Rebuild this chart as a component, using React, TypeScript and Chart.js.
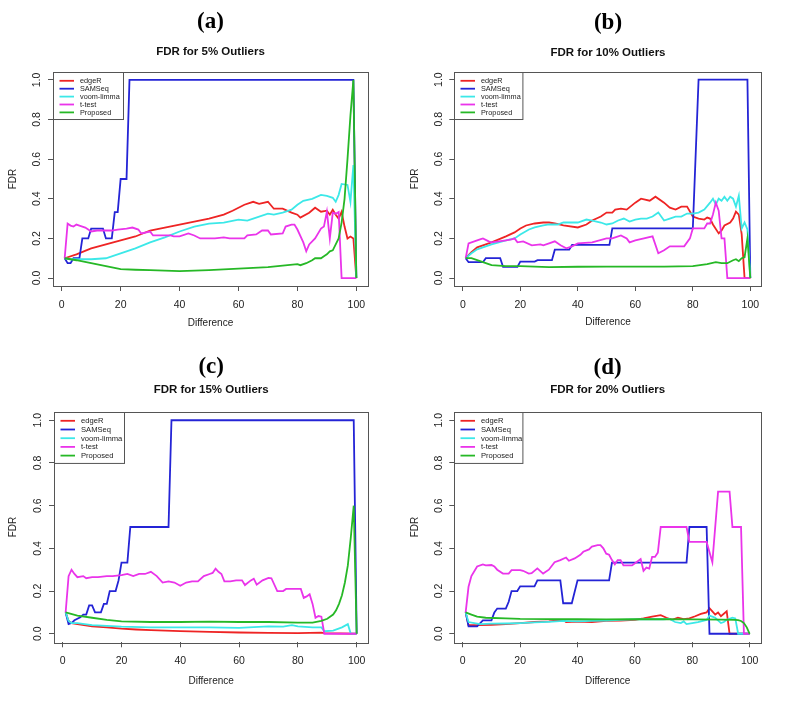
import React, { useEffect, useRef } from "react";
import { Chart, registerables } from "chart.js";
Chart.register(...registerables);

type P = [number, number];

const seriesNames = ["edgeR", "SAMSeq", "voom-limma", "t-test", "Proposed"];
const seriesColors = ["#EE2424", "#2424D6", "#3CE8E8", "#EA34EA", "#26B826"];
const xTicks = [0, 20, 40, 60, 80, 100];
const yTicks = [0, 0.2, 0.4, 0.6, 0.8, 1.0];
const panelLetters = ["(a)", "(b)", "(c)", "(d)"];
const panelTitles = ["FDR for 5% Outliers", "FDR for 10% Outliers", "FDR for 15% Outliers", "FDR for 20% Outliers"];

// ---- Panel (a): 5% outliers
const edgeR_a: P[] = [[1,0.1],[5,0.12],[10,0.15],[15,0.17],[20,0.19],[25,0.21],[30,0.24],[35,0.255],[40,0.27],[45,0.285],[50,0.3],[55,0.32],[58,0.34],[60,0.355],[62,0.37],[65,0.385],[67,0.375],[70,0.385],[72,0.35],[75,0.35],[78,0.33],[80,0.32],[81,0.305],[84,0.33],[86,0.355],[88,0.335],[90,0.34],[91,0.32],[92,0.345],[93,0.32],[94,0.3],[95,0.335],[96,0.26],[97,0.2],[98,0.21],[99,0.2],[100,0]];
const samseq_a: P[] = [[1,0.1],[2,0.075],[3,0.075],[4,0.1],[6,0.1],[7,0.2],[9,0.2],[10,0.25],[14,0.25],[15,0.2],[17,0.2],[18,0.333],[19,0.333],[20,0.5],[22,0.5],[23,1],[99,1],[100,0]];
const voom_a: P[] = [[1,0.1],[3,0.095],[10,0.095],[15,0.1],[20,0.125],[25,0.15],[30,0.18],[35,0.205],[40,0.235],[45,0.26],[50,0.275],[55,0.28],[60,0.295],[63,0.29],[65,0.3],[70,0.325],[72,0.32],[75,0.33],[78,0.345],[80,0.37],[82,0.39],[85,0.4],[88,0.42],[90,0.415],[92,0.405],[93,0.385],[94,0.42],[95,0.475],[97,0.47],[98,0.385],[99,0.57],[100,0]];
const ttest_a: P[] = [[1,0.1],[2,0.275],[3,0.265],[4,0.26],[5,0.27],[6,0.265],[8,0.255],[9,0.245],[10,0.235],[12,0.24],[15,0.24],[17,0.24],[19,0.245],[22,0.25],[24,0.255],[26,0.245],[27,0.225],[30,0.235],[31,0.215],[37,0.215],[38,0.21],[40,0.21],[43,0.225],[45,0.215],[47,0.2],[52,0.2],[55,0.205],[57,0.2],[62,0.2],[63,0.215],[66,0.22],[68,0.24],[70,0.24],[71,0.22],[75,0.225],[76,0.26],[78,0.27],[79,0.27],[80,0.245],[82,0.18],[83,0.135],[84,0.17],[86,0.2],[88,0.25],[89,0.26],[90,0.335],[91,0.2],[92,0.33],[93,0.325],[94,0.333],[95,0],[100,0]];
const prop_a: P[] = [[1,0.1],[5,0.09],[10,0.075],[15,0.06],[20,0.045],[25,0.042],[30,0.04],[40,0.035],[50,0.04],[60,0.048],[70,0.055],[75,0.063],[80,0.07],[81,0.065],[83,0.075],[85,0.09],[86,0.1],[88,0.1],[89,0.11],[90,0.12],[91,0.135],[92,0.14],[93,0.17],[94,0.2],[95,0.28],[96,0.4],[97,0.6],[98,0.82],[99,1.0],[100,0]];

// ---- Panel (b): 10% outliers
const edgeR_b: P[] = [[1,0.1],[3,0.13],[5,0.155],[8,0.17],[10,0.18],[15,0.21],[18,0.23],[20,0.25],[22,0.265],[25,0.275],[28,0.28],[30,0.28],[32,0.275],[35,0.265],[40,0.255],[43,0.27],[45,0.29],[48,0.31],[50,0.33],[52,0.33],[53,0.345],[55,0.35],[57,0.345],[60,0.38],[62,0.4],[65,0.39],[67,0.41],[70,0.38],[72,0.355],[74,0.345],[76,0.36],[78,0.36],[80,0.31],[82,0.3],[84,0.295],[85,0.305],[86,0.3],[87,0.27],[89,0.225],[90,0.24],[91,0.265],[93,0.28],[94,0.3],[95,0.335],[96,0.32],[97,0.22],[98,0],[100,0]];
const samseq_b: P[] = [[1,0.1],[2,0.08],[7,0.08],[8,0.1],[13,0.1],[14,0.056],[19,0.056],[20,0.083],[25,0.083],[26,0.09],[31,0.09],[32,0.143],[37,0.143],[38,0.167],[51,0.167],[52,0.25],[80,0.25],[82,1],[99,1],[100,0]];
const voom_b: P[] = [[1,0.1],[3,0.125],[5,0.145],[8,0.16],[10,0.17],[15,0.19],[18,0.2],[20,0.22],[23,0.245],[25,0.255],[28,0.265],[30,0.27],[33,0.27],[35,0.28],[38,0.28],[40,0.28],[43,0.295],[45,0.29],[48,0.28],[50,0.27],[52,0.275],[54,0.29],[56,0.3],[58,0.285],[60,0.295],[62,0.3],[64,0.3],[66,0.31],[68,0.33],[70,0.29],[72,0.3],[74,0.31],[76,0.31],[78,0.325],[80,0.325],[82,0.33],[84,0.345],[86,0.38],[87,0.4],[88,0.37],[89,0.4],[90,0.39],[91,0.41],[92,0.39],[93,0.41],[94,0.4],[95,0.36],[96,0.415],[97,0.25],[98,0.28],[99,0.245],[100,0]];
const ttest_b: P[] = [[1,0.1],[2,0.175],[4,0.185],[6,0.195],[7,0.2],[9,0.185],[10,0.18],[15,0.19],[17,0.195],[18,0.2],[19,0.18],[21,0.185],[24,0.165],[27,0.17],[28,0.165],[30,0.175],[32,0.185],[34,0.165],[36,0.15],[38,0.16],[40,0.175],[45,0.18],[50,0.2],[52,0.2],[55,0.215],[57,0.2],[58,0.18],[60,0.19],[63,0.2],[66,0.21],[68,0.125],[70,0.14],[72,0.16],[77,0.16],[79,0.2],[80,0.25],[84,0.25],[85,0.275],[86,0.275],[87,0.32],[88,0.38],[89,0.34],[90,0.2],[91,0.2],[92,0],[100,0]];
const prop_b: P[] = [[1,0.1],[3,0.1],[5,0.09],[8,0.075],[10,0.065],[15,0.06],[20,0.06],[30,0.055],[40,0.057],[50,0.058],[60,0.058],[70,0.058],[80,0.06],[85,0.07],[88,0.08],[90,0.075],[92,0.075],[94,0.09],[95,0.095],[96,0.085],[97,0.1],[98,0.105],[99,0.2],[100,0]];

// ---- Panel (c): 15% outliers
const edgeR_c: P[] = [[1,0.1],[2,0.06],[3,0.05],[5,0.045],[10,0.035],[15,0.03],[20,0.024],[25,0.02],[30,0.017],[40,0.0125],[50,0.009],[60,0.006],[70,0.004],[80,0.003],[88,0.005],[89,0.003],[100,0]];
const samseq_c: P[] = [[1,0.1],[2,0.045],[3,0.05],[4,0.063],[6,0.077],[7,0.09],[8,0.09],[9,0.133],[10,0.133],[11,0.1],[13,0.1],[14,0.14],[15,0.14],[16,0.2],[18,0.2],[19,0.25],[20,0.333],[22,0.333],[23,0.5],[36,0.5],[37,1],[99,1],[100,0]];
const voom_c: P[] = [[1,0.1],[2,0.06],[3,0.05],[5,0.05],[10,0.04],[15,0.037],[20,0.033],[30,0.03],[40,0.03],[50,0.03],[60,0.028],[70,0.035],[75,0.033],[78,0.04],[80,0.035],[85,0.03],[88,0.03],[89,0.012],[92,0.015],[95,0.03],[97,0.045],[98,0],[100,0]];
const ttest_c: P[] = [[1,0.1],[2,0.27],[3,0.3],[4,0.28],[5,0.265],[7,0.27],[8,0.26],[10,0.265],[12,0.265],[15,0.27],[17,0.27],[20,0.275],[22,0.28],[24,0.27],[26,0.28],[28,0.28],[30,0.29],[32,0.27],[34,0.24],[36,0.245],[38,0.24],[40,0.225],[42,0.24],[44,0.245],[46,0.245],[48,0.27],[50,0.28],[51,0.285],[52,0.305],[53,0.29],[54,0.28],[55,0.245],[57,0.245],[59,0.25],[61,0.25],[62,0.228],[64,0.25],[65,0.258],[66,0.23],[68,0.25],[70,0.262],[71,0.26],[73,0.2],[75,0.2],[76,0.21],[81,0.21],[82,0.168],[83,0.175],[84,0.185],[85,0.14],[86,0.075],[87,0.083],[88,0.08],[89,0],[100,0]];
const prop_c: P[] = [[1,0.1],[5,0.085],[10,0.075],[15,0.065],[20,0.058],[30,0.055],[40,0.055],[50,0.057],[60,0.055],[70,0.055],[80,0.052],[85,0.052],[88,0.06],[90,0.07],[92,0.09],[93,0.11],[94,0.14],[95,0.18],[96,0.24],[97,0.32],[98,0.45],[99,0.6],[100,0]];

// ---- Panel (d): 20% outliers
const edgeR_d: P[] = [[1,0.1],[2,0.04],[5,0.04],[10,0.042],[15,0.045],[20,0.05],[25,0.055],[30,0.058],[35,0.065],[36,0.055],[40,0.057],[45,0.055],[50,0.06],[55,0.062],[60,0.065],[63,0.072],[66,0.08],[69,0.087],[71,0.075],[73,0.065],[75,0.075],[77,0.068],[79,0.072],[81,0.082],[83,0.093],[85,0.1],[86,0.12],[87,0.105],[88,0.09],[89,0.1],[90,0.082],[92,0.105],[93,0],[100,0]];
const samseq_d: P[] = [[1,0.1],[2,0.035],[5,0.035],[7,0.0625],[10,0.0625],[11,0.1],[12,0.118],[15,0.118],[16,0.15],[17,0.2],[19,0.2],[20,0.222],[25,0.222],[26,0.25],[34,0.25],[35,0.143],[38,0.143],[40,0.25],[51,0.25],[52,0.333],[78,0.333],[79,0.5],[85,0.5],[86,0],[100,0]];
const voom_d: P[] = [[1,0.1],[2,0.055],[4,0.05],[6,0.045],[10,0.047],[15,0.048],[20,0.05],[25,0.053],[30,0.056],[35,0.06],[40,0.058],[45,0.06],[50,0.062],[55,0.065],[60,0.067],[65,0.068],[70,0.068],[72,0.07],[74,0.055],[76,0.05],[77,0.058],[78,0.045],[80,0.05],[82,0.055],[85,0.065],[86,0.085],[87,0.08],[88,0.075],[90,0.05],[91,0.055],[92,0.065],[94,0.075],[95,0.072],[96,0],[100,0]];
const ttest_d: P[] = [[1,0.1],[2,0.22],[3,0.27],[5,0.315],[7,0.325],[8,0.32],[10,0.322],[11,0.315],[12,0.3],[14,0.282],[16,0.282],[17,0.298],[20,0.298],[21,0.295],[23,0.282],[24,0.284],[26,0.306],[28,0.282],[30,0.3],[32,0.335],[34,0.345],[36,0.357],[37,0.342],[39,0.353],[41,0.37],[42,0.384],[44,0.395],[45,0.408],[47,0.415],[48,0.415],[49,0.4],[50,0.375],[51,0.37],[52,0.345],[53,0.325],[54,0.345],[55,0.345],[56,0.32],[59,0.32],[61,0.34],[62,0.35],[63,0.295],[64,0.31],[65,0.305],[66,0.36],[67,0.36],[68,0.38],[69,0.5],[78,0.5],[79,0.43],[85,0.43],[87,0.335],[89,0.666],[93,0.666],[94,0.5],[97,0.5],[98,0],[100,0]];
const prop_d: P[] = [[1,0.1],[3,0.09],[5,0.08],[8,0.075],[15,0.072],[20,0.07],[30,0.069],[40,0.068],[50,0.067],[60,0.068],[70,0.068],[80,0.067],[90,0.066],[95,0.065],[96,0.064],[97,0.06],[98,0.05],[99,0.03],[100,0]];

const panelSeries: P[][][] = [
  [edgeR_a, samseq_a, voom_a, ttest_a, prop_a],
  [edgeR_b, samseq_b, voom_b, ttest_b, prop_b],
  [edgeR_c, samseq_c, voom_c, ttest_c, prop_c],
  [edgeR_d, samseq_d, voom_d, ttest_d, prop_d],
];

// ---- layout (pixels, relative to each canvas)
const panelLayout = [
  { left: 0, top: 0, w: 395, h: 330, boxL: 53, boxR: 368, boxT: 72, boxB: 286, tc: 22, sc: 52.2, yTitleX: 13.3, xTitleY: 323, legW: 70, legRow: 7.9, legFont: 7.3 },
  { left: 395, top: 0, w: 396, h: 330, boxL: 59.3, boxR: 366.7, boxT: 71.7, boxB: 286, tc: 22.8, sc: 53, yTitleX: 20, xTitleY: 322.7, legW: 68.4, legRow: 7.9, legFont: 7.3 },
  { left: 0, top: 330, w: 395, h: 360, boxL: 54, boxR: 368.3, boxT: 81.7, boxB: 312.3, tc: 37.3, sc: 59.8, yTitleX: 13.3, xTitleY: 351.7, legW: 70, legRow: 8.7, legFont: 7.6 },
  { left: 395, top: 330, w: 396, h: 360, boxL: 59.3, boxR: 366, boxT: 81.7, boxB: 312.3, tc: 37.8, sc: 59.8, yTitleX: 20, xTitleY: 351.7, legW: 68.4, legRow: 8.7, legFont: 7.6 },
];

const SANS = '"Liberation Sans", Arial, Helvetica, sans-serif';
const SERIF = '"Liberation Serif", "Times New Roman", serif';

const boxPlugin = {
  id: "rBox",
  afterDraw(chart: any) {
    const { ctx, chartArea: a } = chart;
    ctx.save();
    ctx.strokeStyle = "#555";
    ctx.lineWidth = 1;
    ctx.strokeRect(Math.round(a.left) + 0.5, Math.round(a.top) + 0.5, Math.round(a.right - a.left), Math.round(a.bottom - a.top));
    ctx.restore();
  },
};

const yLabelPlugin = {
  id: "rYLabels",
  afterDraw(chart: any) {
    const { ctx, chartArea } = chart;
    const s = chart.scales.y;
    ctx.save();
    ctx.font = `10.5px ${SANS}`;
    ctx.fillStyle = "#222";
    ctx.textAlign = "center";
    ctx.textBaseline = "middle";
    for (const v of yTicks) {
      const y = s.getPixelForValue(v);
      ctx.save();
      ctx.translate(chartArea.left - 15.5, y);
      ctx.rotate(-Math.PI / 2);
      ctx.fillText(v.toFixed(1), 0, 0);
      ctx.restore();
    }
    ctx.restore();
  },
};

function makeLegendPlugin(L: any) {
  return {
    id: "rLegend",
    afterDatasetsDraw(chart: any) {
      const { ctx, chartArea } = chart;
      const x0 = Math.round(chartArea.left) + 0.5;
      const y0 = Math.round(chartArea.top) + 0.5;
      const first = 8.3;
      const h = first + 4 * L.legRow + 0.9 * L.legRow;
      ctx.save();
      ctx.fillStyle = "#fff";
      ctx.fillRect(x0, y0, L.legW, h);
      ctx.strokeStyle = "#555";
      ctx.lineWidth = 1;
      ctx.strokeRect(x0, y0, L.legW, h);
      ctx.font = `${L.legFont}px ${SANS}`;
      ctx.textAlign = "left";
      ctx.textBaseline = "middle";
      chart.data.datasets.forEach((ds: any, k: number) => {
        const y = y0 + first + k * L.legRow;
        ctx.strokeStyle = ds.borderColor;
        ctx.lineWidth = 1.8;
        ctx.beginPath();
        ctx.moveTo(x0 + 6, y);
        ctx.lineTo(x0 + 20.5, y);
        ctx.stroke();
        ctx.fillStyle = "#222";
        ctx.fillText(ds.label, x0 + 26.5, y + 0.3);
      });
      ctx.restore();
    },
  };
}

function Panel({ idx }: { idx: number }) {
  const ref = useRef<HTMLCanvasElement | null>(null);
  const L = panelLayout[idx];
  useEffect(() => {
    if (!ref.current) return;
    const titleLH = 23 * 1.2;
    const subLH = 11.5 * 1.2;
    const tpt = L.tc - titleLH / 2;
    const tb = L.tc + titleLH / 2;
    const spt = L.sc - subLH / 2 - tb;
    const spb = L.boxT - (L.sc + subLH / 2);
    const chart = new Chart(ref.current, {
      type: "line",
      data: {
        datasets: panelSeries[idx].map((pts, k) => ({
          label: seriesNames[k],
          data: pts.map(([x, y]) => ({ x, y })),
          borderColor: seriesColors[k],
          backgroundColor: seriesColors[k],
          borderWidth: 1.8,
          pointRadius: 0,
          tension: 0,
          fill: false,
          order: 5 - k,
        })),
      },
      options: {
        responsive: false,
        animation: false,
        layout: { padding: { left: 0, top: 0, right: L.w - L.boxR, bottom: 0 } },
        plugins: {
          legend: { display: false },
          tooltip: { enabled: false },
          title: {
            display: true,
            text: panelLetters[idx],
            fullSize: false,
            color: "#000",
            font: { family: SERIF, size: 23, weight: "bold", lineHeight: 1.2 },
            padding: { top: tpt, bottom: 0 },
          },
          subtitle: {
            display: true,
            text: panelTitles[idx],
            fullSize: false,
            color: "#111",
            font: { family: SANS, size: 11.5, weight: "bold", lineHeight: 1.2 },
            padding: { top: spt, bottom: spb },
          },
        },
        scales: {
          x: {
            type: "linear",
            min: -2.96,
            max: 103.96,
            afterBuildTicks: (ax: any) => {
              ax.ticks = xTicks.map((v) => ({ value: v }));
            },
            afterFit: (s: any) => {
              s.height = L.h - L.boxB;
            },
            grid: { drawOnChartArea: false, drawTicks: true, tickLength: 5, color: "#555" },
            border: { display: false },
            ticks: {
              font: { family: SANS, size: 10.5 },
              color: "#222",
              padding: 8,
              maxRotation: 0,
              autoSkip: false,
              callback: (v: any) => String(v),
            },
            title: {
              display: true,
              text: "Difference",
              color: "#222",
              font: { family: SANS, size: 10, lineHeight: 1.2 },
              padding: { top: 0, bottom: L.h - 6 - L.xTitleY },
            },
          },
          y: {
            type: "linear",
            min: -0.04,
            max: 1.04,
            afterBuildTicks: (ax: any) => {
              ax.ticks = yTicks.map((v) => ({ value: v }));
            },
            afterFit: (s: any) => {
              s.width = L.boxL;
            },
            grid: { drawOnChartArea: false, drawTicks: true, tickLength: 5, color: "#555" },
            border: { display: false },
            ticks: { display: false },
            title: {
              display: true,
              text: "FDR",
              color: "#222",
              font: { family: SANS, size: 10, lineHeight: 1.2 },
              padding: { top: L.yTitleX - 6, bottom: 0 },
            },
          },
        },
      } as any,
      plugins: [boxPlugin, yLabelPlugin, makeLegendPlugin(L)],
    });
    return () => chart.destroy();
  }, [idx]);
  return (
    <canvas
      ref={ref}
      width={L.w}
      height={L.h}
      style={{ position: "absolute", left: L.left, top: L.top, width: L.w, height: L.h }}
    />
  );
}

export default function App() {
  return (
    <div style={{ position: "absolute", left: 0, top: 0, width: 791, height: 712, background: "#fff" }}>
      {[0, 1, 2, 3].map((i) => (
        <Panel key={i} idx={i} />
      ))}
    </div>
  );
}
